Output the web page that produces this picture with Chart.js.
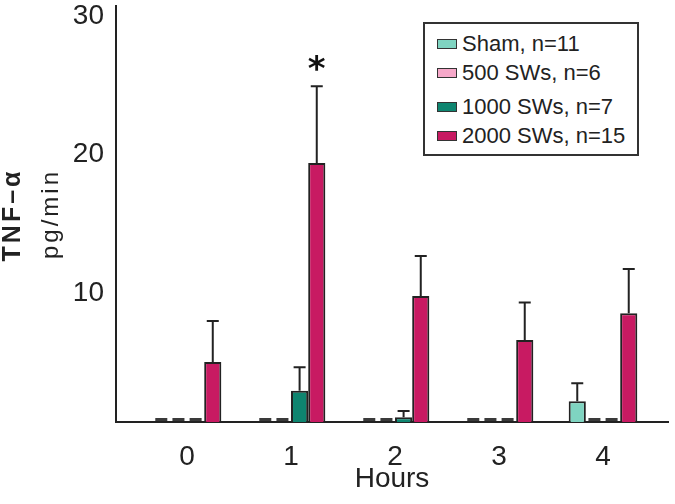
<!DOCTYPE html>
<html>
<head>
<meta charset="utf-8">
<script src="https://cdn.jsdelivr.net/npm/chart.js@4"></script>
<style>
  html, body { margin: 0; padding: 0; background: #fff; }
  #wrap { position: relative; width: 675px; height: 504px; }
  #legend {
    position: absolute; left: 423px; top: 22px; width: 212px; height: 130px;
    border: 2px solid #333; background: #fff;
    font-family: "Liberation Sans", Arial, sans-serif; font-size: 22px; color: #222;
  }
  .row { position: absolute; left: 12px; height: 26px; display: flex; align-items: center; white-space: nowrap; }
  .sw { width: 18px; height: 8px; border: 1px solid #333; margin-right: 5px; }
</style>
</head>
<body>
<div id="wrap">
  <canvas id="chart" width="675" height="504"></canvas>
  <div id="legend"></div>
</div>
<script>
// data
const hours = [0, 1, 2, 3, 4];
const seriesNames = ['Sham, n=11', '500 SWs, n=6', '1000 SWs, n=7', '2000 SWs, n=15'];
const sham    = [0, 0, 0, 0, 1.5];
const sws500  = [0, 0, 0, 0, 0];
const sws1000 = [0, 2.25, 0.34, 0, 0];
const sws2000 = [4.33, 18.67, 9.08, 5.91, 7.84];
const shamErr    = [0, 0, 0, 0, 1.3];
const sws500Err  = [0, 0, 0, 0, 0];
const sws1000Err = [0, 1.7, 0.45, 0, 0];
const sws2000Err = [2.95, 5.55, 2.9, 2.7, 3.2];
const sws2000Sig = ['', '*', '', '', ''];
const yTicks = [10, 20, 30];
const colors = ['#7fd4c1', '#f6a8c9', '#0e8570', '#c81a62'];

const family = '"Liberation Sans", Arial, sans-serif';
const series = [sham, sws500, sws1000, sws2000];
const errs = [shamErr, sws500Err, sws1000Err, sws2000Err];
const sigs = [null, null, null, sws2000Sig];

// legend box
const legend = document.getElementById('legend');
const rowTops = [7, 36, 70, 99];
seriesNames.forEach((name, i) => {
  const row = document.createElement('div');
  row.className = 'row';
  row.style.top = rowTops[i] + 'px';
  row.innerHTML = '<span class="sw" style="background:' + colors[i] + '"></span><span>' + name + '</span>';
  legend.appendChild(row);
});

const extras = {
  id: 'extras',
  afterDatasetsDraw(chart) {
    const ctx = chart.ctx;
    const y = chart.scales.y;
    ctx.save();
    chart.data.datasets.forEach((ds, di) => {
      const meta = chart.getDatasetMeta(di);
      meta.data.forEach((bar, i) => {
        const v = series[di][i];
        const p = bar.getProps(['x', 'width', 'base'], true);
        if (v === 0) {
          // zero values shown as short dashes on the baseline
          ctx.fillStyle = '#3a3a3a';
          ctx.fillRect(p.x - p.width * 0.35, p.base - 4, p.width * 0.7, 3);
          return;
        }
        const e = errs[di][i];
        const top = y.getPixelForValue(v + e);
        if (e > 0) {
          ctx.strokeStyle = '#222';
          ctx.lineWidth = 2;
          ctx.beginPath();
          ctx.moveTo(p.x, y.getPixelForValue(v));
          ctx.lineTo(p.x, top);
          ctx.moveTo(p.x - 6, top);
          ctx.lineTo(p.x + 6, top);
          ctx.stroke();
        }
        if (sigs[di] && sigs[di][i]) {
          ctx.fillStyle = '#111';
          ctx.font = 'bold 34px "DejaVu Sans"';
          ctx.textAlign = 'center';
          ctx.textBaseline = 'middle';
          ctx.fillText(sigs[di][i], p.x, top - 15);
        }
      });
    });

    // two-line y title: bold TNF-α, then pg/min
    ctx.fillStyle = '#222';
    ctx.textAlign = 'center';
    ctx.textBaseline = 'middle';
    ctx.save();
    ctx.translate(13, 215);
    ctx.rotate(-Math.PI / 2);
    ctx.font = 'bold 25px ' + family;
    ctx.letterSpacing = '3px';
    ctx.fillText('TNF–α', 0, 0);
    ctx.restore();
    ctx.save();
    ctx.translate(51, 214);
    ctx.rotate(-Math.PI / 2);
    ctx.font = '24px ' + family;
    ctx.letterSpacing = '3px';
    ctx.fillText('pg/min', 0, 0);
    ctx.restore();
    ctx.restore();
  }
};

new Chart(document.getElementById('chart'), {
  type: 'bar',
  data: {
    datasets: series.map((vals, i) => ({
      label: seriesNames[i],
      data: hours.map((h, j) => ({ x: h, y: vals[j] })),
      backgroundColor: colors[i],
      borderColor: '#222',
      borderWidth: c => (c.parsed && c.parsed.y === 0 ? 0 : 2),
      borderSkipped: 'start',
      categoryPercentage: 0.66,
      barPercentage: 1.0
    }))
  },
  options: {
    responsive: false,
    animation: false,
    devicePixelRatio: 1,
    layout: { padding: { top: 6, right: 7, left: 0, bottom: 0 } },
    plugins: { legend: { display: false }, tooltip: { enabled: false } },
    scales: {
      x: {
        type: 'linear',
        min: -0.683,
        max: 4.625,
        offset: false,
        afterBuildTicks: s => { s.ticks = hours.map(v => ({ value: v })); },
        afterFit: s => { s.height = 82; s.paddingLeft = 0; s.paddingRight = 0; },
        grid: { display: false, drawTicks: false },
        border: { display: true, color: '#222', width: 2 },
        ticks: { font: { size: 28, family }, color: '#222', padding: 18, maxRotation: 0 },
        title: { display: true, text: 'Hours', font: { size: 28, family }, color: '#222', padding: { top: 0, bottom: 8 } }
      },
      y: {
        min: 0,
        max: 30,
        afterBuildTicks: s => { s.ticks = yTicks.map(v => ({ value: v })); },
        afterFit: s => { s.width = 116; s.paddingTop = 0; s.paddingBottom = 0; },
        grid: { display: false, drawTicks: false },
        border: { display: true, color: '#222', width: 2 },
        ticks: { font: { size: 28, family }, color: '#222', padding: 12, labelOffset: 10 }
      }
    }
  },
  plugins: [extras]
});
</script>
</body>
</html>
